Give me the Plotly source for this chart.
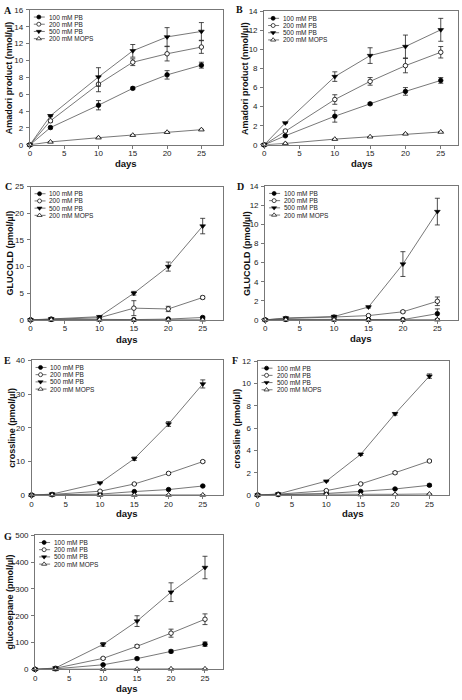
import plotly.graph_objects as go

W, H = 462, 700

days = [0, 3, 10, 15, 20, 25]
series_names = ["100 mM PB", "200 mM PB", "500 mM PB", "200 mM MOPS"]
x_ticks = [0, 5, 10, 15, 20, 25]

# ---- Panel A: Amadori product (nmol/µl)
a_pb100 = [0, 2.05, 4.7, 6.7, 8.3, 9.45]
a_pb100_err = [0, 0.15, 0.55, 0.15, 0.5, 0.35]
a_pb200 = [0, 2.85, 7.2, 9.8, 10.8, 11.6]
a_pb200_err = [0, 0.15, 0.9, 0.4, 0.85, 0.75]
a_pb500 = [0, 3.45, 8.05, 11.15, 12.8, 13.45]
a_pb500_err = [0, 0.1, 1.1, 0.75, 1.1, 1.05]
a_mops = [0, 0.35, 0.85, 1.15, 1.5, 1.8]
a_mops_err = [0, 0.05, 0.05, 0.05, 0.05, 0.05]
a_yticks = [0, 2, 4, 6, 8, 10, 12, 14, 16]

# ---- Panel B: Amadori product (nmol/µl)
b_pb100 = [0, 0.95, 3.0, 4.3, 5.6, 6.75]
b_pb100_err = [0, 0.05, 0.62, 0.1, 0.4, 0.3]
b_pb200 = [0, 1.45, 4.75, 6.65, 8.3, 9.7]
b_pb200_err = [0, 0.05, 0.5, 0.4, 0.75, 0.6]
b_pb500 = [0, 2.3, 7.15, 9.35, 10.3, 12.05]
b_pb500_err = [0, 0.05, 0.5, 0.82, 1.2, 1.2]
b_mops = [0, 0.15, 0.6, 0.85, 1.15, 1.35]
b_mops_err = [0, 0.03, 0.03, 0.03, 0.05, 0.05]
b_yticks = [0, 2, 4, 6, 8, 10, 12, 14]

# ---- Panel C: GLUCOLD (pmol/µl)
c_pb100 = [0, 0.1, 0.1, 0.05, 0.15, 0.45]
c_pb100_err = [0, 0, 0, 0, 0.05, 0.2]
c_pb200 = [0, 0.15, 0.4, 2.2, 2.05, 4.2]
c_pb200_err = [0, 0, 0.05, 1.4, 0.5, 0.25]
c_pb500 = [0, 0.2, 0.6, 5.0, 10.0, 17.6]
c_pb500_err = [0, 0, 0.05, 0.35, 0.85, 1.45]
c_mops = [0, 0.02, 0.02, 0.02, 0.02, 0.02]
c_mops_err = [0, 0, 0, 0, 0, 0]
c_yticks = [0, 5, 10, 15, 20, 25]

# ---- Panel D: GLUCOLD (pmol/µl)
d_pb100 = [0, 0.05, 0.05, 0.03, 0.03, 0.65]
d_pb100_err = [0, 0, 0, 0, 0, 0.5]
d_pb200 = [0, 0.15, 0.3, 0.45, 0.85, 1.95]
d_pb200_err = [0, 0, 0.03, 0.05, 0.1, 0.45]
d_pb500 = [0, 0.2, 0.35, 1.35, 5.85, 11.35]
d_pb500_err = [0, 0.02, 0.05, 0.1, 1.3, 1.4]
d_mops = [0, 0.02, 0.02, 0.02, 0.02, 0.02]
d_mops_err = [0, 0, 0, 0, 0, 0]
d_yticks = [0, 2, 4, 6, 8, 10, 12, 14]

# ---- Panel E: crossline (pmol/µl)
e_pb100 = [0, 0.1, 0.3, 1.05, 1.65, 2.7]
e_pb100_err = [0, 0, 0.05, 0.1, 0.15, 0.2]
e_pb200 = [0, 0.2, 1.15, 3.3, 6.45, 9.95]
e_pb200_err = [0, 0, 0.1, 0.2, 0.3, 0.3]
e_pb500 = [0, 0.3, 3.6, 10.8, 21.1, 33.0]
e_pb500_err = [0, 0, 0.2, 0.5, 0.7, 1.2]
e_mops = [0, 0.05, 0.05, 0.05, 0.05, 0.05]
e_mops_err = [0, 0, 0, 0, 0, 0]
e_yticks = [0, 10, 20, 30, 40]

# ---- Panel F: crossline (pmol/µl)
f_pb100 = [0, 0.05, 0.15, 0.33, 0.55, 0.88]
f_pb100_err = [0, 0, 0.02, 0.05, 0.05, 0.1]
f_pb200 = [0, 0.08, 0.4, 1.0, 2.0, 3.05]
f_pb200_err = [0, 0, 0.03, 0.05, 0.1, 0.08]
f_pb500 = [0, 0.1, 1.25, 3.65, 7.28, 10.65]
f_pb500_err = [0, 0, 0.05, 0.1, 0.12, 0.2]
f_mops = [0, 0.05, 0.08, 0.05, 0.07, 0.1]
f_mops_err = [0, 0, 0, 0, 0, 0]
f_yticks = [0, 2, 4, 6, 8, 10, 12]

# ---- Panel G: glucosepane (pmol/µl)
g_pb100 = [0, 2, 17, 40, 67, 94]
g_pb100_err = [0, 0, 2, 4, 5, 8]
g_pb200 = [0, 4, 41, 86, 135, 187]
g_pb200_err = [0, 1, 3, 5, 15, 20]
g_pb500 = [0, 5, 93, 180, 288, 380]
g_pb500_err = [0, 1, 7, 20, 35, 42]
g_mops = [0, 0, 1, 1, 2, 2]
g_mops_err = [0, 0, 0, 0, 0, 0]
g_yticks = [0, 100, 200, 300, 400, 500]

panels = [
    dict(letter="A", ytitle="Amadori product (nmol/µl)", yticks=a_yticks,
         vals=[a_pb100, a_pb200, a_pb500, a_mops],
         errs=[a_pb100_err, a_pb200_err, a_pb500_err, a_mops_err],
         box=(28, 222.3, 6, 142.7), xmax=28.2, ytx=7, days=(125, 162), lxy=(6, 6.5)),
    dict(letter="B", ytitle="Amadori product (nmol/µl)", yticks=b_yticks,
         vals=[b_pb100, b_pb200, b_pb500, b_mops],
         errs=[b_pb100_err, b_pb200_err, b_pb500_err, b_mops_err],
         box=(263.3, 457.7, 7.3, 142.7), xmax=27.4, ytx=244, days=(362, 161.5), lxy=(239, 6)),
    dict(letter="C", ytitle="GLUCOLD (pmol/µl)", yticks=c_yticks,
         vals=[c_pb100, c_pb200, c_pb500, c_mops],
         errs=[c_pb100_err, c_pb200_err, c_pb500_err, c_mops_err],
         box=(28.7, 222.3, 185, 320), xmax=28.0, ytx=8.3, days=(126, 339.5), lxy=(7, 185)),
    dict(letter="D", ytitle="GLUCOLD (pmol/µl)", yticks=d_yticks,
         vals=[d_pb100, d_pb200, d_pb500, d_mops],
         errs=[d_pb100_err, d_pb200_err, d_pb500_err, d_mops_err],
         box=(264.3, 458, 184.7, 320), xmax=28.0, ytx=246, days=(361, 338.5), lxy=(240, 185)),
    dict(letter="E", ytitle="crossline (pmol/µl)", yticks=e_yticks,
         vals=[e_pb100, e_pb200, e_pb500, e_mops],
         errs=[e_pb100_err, e_pb200_err, e_pb500_err, e_mops_err],
         box=(29.7, 222.3, 361, 497.5), xmax=28.0, ytx=10, days=(126, 516.5), lxy=(6, 361.5)),
    dict(letter="F", ytitle="crossline (pmol/µl)", yticks=f_yticks,
         vals=[f_pb100, f_pb200, f_pb500, f_mops],
         errs=[f_pb100_err, f_pb200_err, f_pb500_err, f_mops_err],
         box=(256.7, 449.3, 361.7, 497.5), xmax=27.9, ytx=236.5, days=(353, 516), lxy=(234.5, 361.5)),
    dict(letter="G", ytitle="glucosepane (pmol/µl)", yticks=g_yticks,
         vals=[g_pb100, g_pb200, g_pb500, g_mops],
         errs=[g_pb100_err, g_pb200_err, g_pb500_err, g_mops_err],
         box=(33.3, 222.3, 538.3, 674), xmax=27.7, ytx=8.3, days=(126, 693), lxy=(6, 539)),
]

marker_styles = [
    dict(symbol="circle", size=4.5, color="black", line=dict(color="black", width=0.8)),
    dict(symbol="circle", size=4.5, color="white", line=dict(color="black", width=0.8)),
    dict(symbol="triangle-down", size=5, color="black", line=dict(color="black", width=0.6)),
    dict(symbol="triangle-up", size=5, color="white", line=dict(color="black", width=0.8)),
]
legend_marker_styles = [
    dict(symbol="circle", size=4, color="black", line=dict(color="black", width=0.7)),
    dict(symbol="circle", size=4, color="white", line=dict(color="black", width=0.7)),
    dict(symbol="triangle-down", size=4.5, color="black", line=dict(color="black", width=0.5)),
    dict(symbol="triangle-up", size=4.5, color="white", line=dict(color="black", width=0.7)),
]

FONT = "Liberation Sans, Arial, sans-serif"
AXC = "#777777"
TXT = "#222222"
LINEC = "#555555"

fig = go.Figure()
annotations = []
layout = {}


def px_x(v):
    return v / W


def px_y(v):
    return 1 - v / H


n = len(panels)
for i, p in enumerate(panels):
    k = i + 1
    kk = "" if k == 1 else str(k)
    lk = n + k  # legend overlay axis index
    x0, x1, yt, yb = p["box"]
    pw, ph = x1 - x0, yb - yt
    ymax = p["yticks"][-1]

    layout["xaxis" + kk] = dict(
        domain=[px_x(x0), px_x(x1)], range=[0, p["xmax"]], anchor="y" + kk,
        tickvals=x_ticks, ticks="outside", ticklen=3, tickwidth=0.8, tickcolor=AXC,
        showline=True, linecolor=AXC, linewidth=1, mirror=True,
        showgrid=False, zeroline=False,
        tickfont=dict(family=FONT, size=8, color=TXT), ticklabelstandoff=-2,
    )
    layout["yaxis" + kk] = dict(
        domain=[px_y(yb), px_y(yt)], range=[0, ymax], anchor="x" + kk,
        tickvals=p["yticks"], ticks="outside", ticklen=3, tickwidth=0.8, tickcolor=AXC,
        showline=True, linecolor=AXC, linewidth=1, mirror=True,
        showgrid=False, zeroline=False,
        tickfont=dict(family=FONT, size=8, color=TXT), ticklabelstandoff=1,
    )
    # overlay axes in panel pixel units for the legend block
    layout["xaxis" + str(lk)] = dict(
        overlaying="x" + kk, range=[0, pw], visible=False, anchor="y" + str(lk),
        fixedrange=True,
    )
    layout["yaxis" + str(lk)] = dict(
        overlaying="y" + kk, range=[ph, 0], visible=False, anchor="x" + str(lk),
        fixedrange=True,
    )

    for s in range(4):
        fig.add_trace(go.Scatter(
            x=days, y=p["vals"][s], mode="lines+markers",
            xaxis="x" + kk, yaxis="y" + kk, cliponaxis=False,
            line=dict(color=LINEC, width=0.8),
            marker=marker_styles[s],
            error_y=dict(type="data", array=p["errs"][s], visible=True,
                         color="#222222", thickness=0.8, width=2.5),
            showlegend=False, name=series_names[s],
        ))

    # legend block
    rows = [7.2, 14.5, 21.8, 29.1]
    for s in range(4):
        fig.add_trace(go.Scatter(
            x=[4, 15], y=[rows[s], rows[s]], mode="lines",
            xaxis="x" + str(lk), yaxis="y" + str(lk), cliponaxis=False,
            line=dict(color=LINEC, width=0.8), showlegend=False, hoverinfo="skip",
        ))
        fig.add_trace(go.Scatter(
            x=[9], y=[rows[s]], mode="markers",
            xaxis="x" + str(lk), yaxis="y" + str(lk), cliponaxis=False,
            marker=legend_marker_styles[s], showlegend=False, hoverinfo="skip",
        ))
        annotations.append(dict(
            x=18, y=rows[s], xref="x" + str(lk), yref="y" + str(lk),
            text=series_names[s], showarrow=False, xanchor="left", yanchor="middle",
            borderpad=0,
            font=dict(family=FONT, size=6.5, color=TXT),
        ))

    # titles
    annotations.append(dict(
        x=px_x(p["ytx"]), y=px_y((yt + yb) / 2), xref="paper", yref="paper",
        text="<b>" + p["ytitle"] + "</b>", textangle=-90, showarrow=False,
        xanchor="center", yanchor="middle",
        font=dict(family=FONT, size=9, color="#111111"),
    ))
    annotations.append(dict(
        x=px_x(p["days"][0]), y=px_y(p["days"][1]), xref="paper", yref="paper",
        text="<b>days</b>", showarrow=False, xanchor="center", yanchor="middle",
        font=dict(family=FONT, size=9.5, color="#111111"),
    ))
    annotations.append(dict(
        x=px_x(p["lxy"][0]), y=px_y(p["lxy"][1]), xref="paper", yref="paper",
        text="<b>" + p["letter"] + "</b>", showarrow=False, xanchor="center", yanchor="middle",
        font=dict(family="Liberation Serif, Times New Roman, serif", size=10, color="#111111"),
    ))

fig.update_layout(
    width=W, height=H, margin=dict(l=0, r=0, t=0, b=0),
    paper_bgcolor="white", plot_bgcolor="rgba(0,0,0,0)",
    showlegend=False, annotations=annotations,
    **layout,
)

fig.write_html(
    "out.html",
    config={"displayModeBar": False},
    post_script="document.body.style.margin='0px';document.body.style.overflow='hidden';",
)
